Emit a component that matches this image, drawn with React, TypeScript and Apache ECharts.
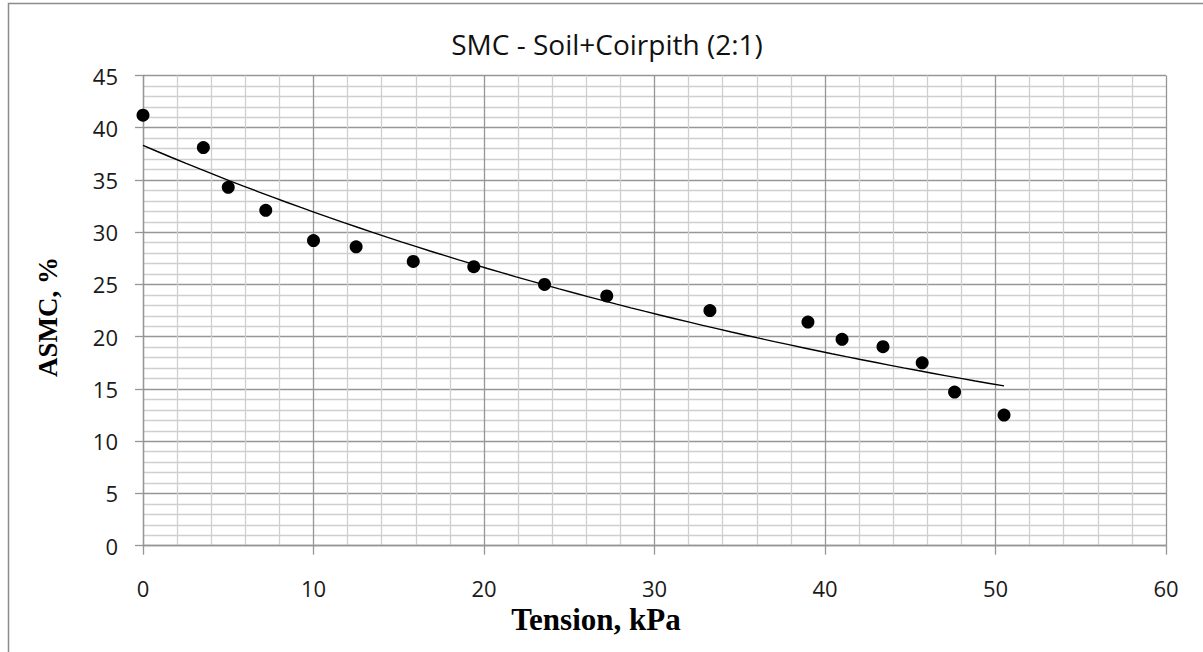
import React, { useEffect, useRef } from "react";
import * as echarts from "echarts";

// Data
const tension: number[] = [0, 3.54, 5.0, 7.2, 10.0, 12.5, 15.85, 19.4, 23.55, 27.2, 33.25, 39.0, 41.0, 43.4, 45.7, 47.6, 50.5];
const asmc: number[] = [41.2, 38.1, 34.3, 32.1, 29.2, 28.6, 27.2, 26.7, 25.0, 23.9, 22.5, 21.4, 19.75, 19.05, 17.5, 14.7, 12.5];

const titleText = "SMC - Soil+Coirpith (2:1)";
const xAxisTitle = "Tension, kPa";
const yAxisTitle = "ASMC, %";

const xAxisRange = { min: 0, max: 60, interval: 10 };
const yAxisRange = { min: 0, max: 45, interval: 5 };

// Exponential trendline (least squares on ln y), as in a spreadsheet trendline
function expTrend(xs: number[], ys: number[], steps: number): number[][] {
  const n = xs.length;
  const ly = ys.map((v) => Math.log(v));
  const mx = xs.reduce((a, b) => a + b, 0) / n;
  const my = ly.reduce((a, b) => a + b, 0) / n;
  let sxy = 0;
  let sxx = 0;
  for (let i = 0; i < n; i++) {
    sxy += (xs[i] - mx) * (ly[i] - my);
    sxx += (xs[i] - mx) * (xs[i] - mx);
  }
  const b = sxy / sxx;
  const a = Math.exp(my - b * mx);
  const x0 = Math.min(...xs);
  const x1 = Math.max(...xs);
  const out: number[][] = [];
  for (let i = 0; i <= steps; i++) {
    const x = x0 + ((x1 - x0) * i) / steps;
    out.push([x, a * Math.exp(b * x)]);
  }
  return out;
}

export default function App() {
  const ref = useRef<HTMLDivElement>(null);

  useEffect(() => {
    if (!ref.current) return;
    const chart = echarts.init(ref.current, null, { renderer: "svg" });
    const points = tension.map((x, i) => [x, asmc[i]]);
    const trend = expTrend(tension, asmc, 60);

    const majorColor = "#969696";
    const minorColor = "#cfcfcf";
    const labelStyle = { fontFamily: "Open Sans", fontSize: 22, color: "#1a1a1a" };

    chart.setOption({
      animation: false,
      backgroundColor: "#ffffff",
      grid: { left: 143, right: 37, top: 75.5, bottom: 106.3, containLabel: false },
      xAxis: {
        type: "value",
        min: xAxisRange.min,
        max: xAxisRange.max,
        interval: xAxisRange.interval,
        axisLine: { show: true, onZero: false, lineStyle: { color: majorColor, width: 1.3 } },
        axisTick: { show: true, inside: false, length: 9, lineStyle: { color: majorColor, width: 1.3 } },
        axisLabel: { ...labelStyle, margin: 31 },
        splitLine: { show: true, lineStyle: { color: majorColor, width: 1.3 } },
        minorTick: { show: false, splitNumber: 5 },
        minorSplitLine: { show: true, lineStyle: { color: minorColor, width: 1.3 } },
      },
      yAxis: {
        type: "value",
        min: yAxisRange.min,
        max: yAxisRange.max,
        interval: yAxisRange.interval,
        axisLine: { show: true, lineStyle: { color: majorColor, width: 1.3 } },
        axisTick: { show: true, inside: false, length: 8, lineStyle: { color: majorColor, width: 1.3 } },
        axisLabel: { ...labelStyle, margin: 25 },
        splitLine: { show: true, lineStyle: { color: majorColor, width: 1.3 } },
        minorTick: { show: false, splitNumber: 5 },
        minorSplitLine: { show: true, lineStyle: { color: minorColor, width: 1.3 } },
      },
      series: [
        {
          type: "line",
          data: trend,
          showSymbol: false,
          symbol: "none",
          smooth: false,
          lineStyle: { color: "#000", width: 1.4 },
          z: 3,
        },
        {
          type: "scatter",
          data: points,
          symbol: "circle",
          symbolSize: 13,
          itemStyle: { color: "#000", opacity: 1 },
          z: 4,
        },
      ],
      graphic: [
        {
          type: "rect",
          shape: { x: 8.5, y: 3.5, width: 1400, height: 800 },
          style: { fill: "none", stroke: "#8c8c8c", lineWidth: 1.5 },
          silent: true,
        },
        {
          type: "text",
          x: 607,
          y: 44,
          style: {
            text: titleText,
            fontFamily: "Open Sans",
            fontSize: 28,
            fill: "#111",
            textAlign: "center",
            textVerticalAlign: "middle",
          },
        },
        {
          type: "text",
          x: 596,
          y: 619,
          style: {
            text: xAxisTitle,
            fontFamily: "Liberation Serif",
            fontWeight: "bold",
            fontSize: 31,
            fill: "#000",
            textAlign: "center",
            textVerticalAlign: "middle",
          },
        },
        {
          type: "text",
          x: 48,
          y: 317,
          rotation: Math.PI / 2,
          style: {
            text: yAxisTitle,
            fontFamily: "Liberation Serif",
            fontWeight: "bold",
            fontSize: 27,
            fill: "#000",
            textAlign: "center",
            textVerticalAlign: "middle",
          },
        },
      ],
    });

    return () => chart.dispose();
  }, []);

  return (
    <div
      ref={ref}
      style={{ position: "fixed", left: 0, top: 0, width: 1203, height: 652, background: "#fff" }}
    />
  );
}
